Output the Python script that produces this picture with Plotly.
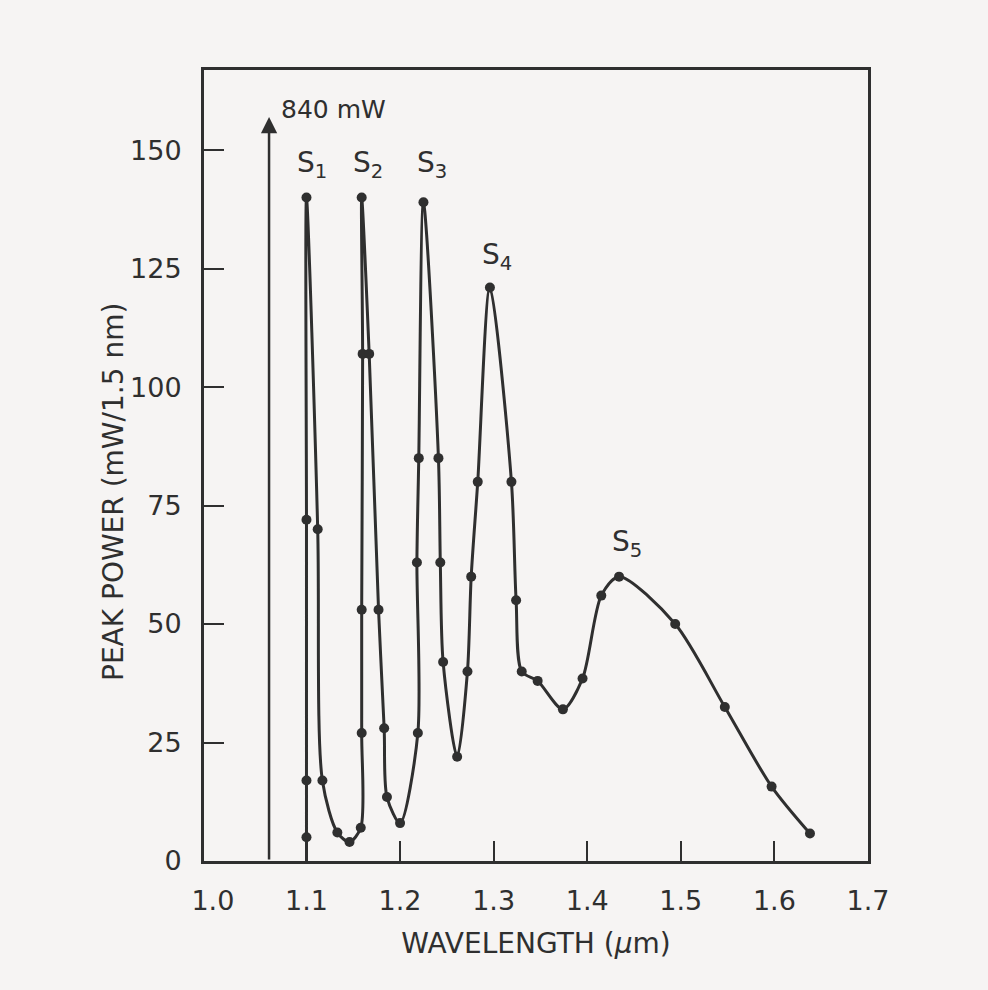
import plotly.graph_objects as go

# Stimulated Raman Stokes lines (S1..S5) generated by a 1.06 um pump
wavelength_um = [1.100, 1.100, 1.100, 1.100, 1.112, 1.117, 1.133, 1.146,
                 1.158, 1.159, 1.159, 1.160, 1.159, 1.167, 1.177, 1.183,
                 1.186, 1.200, 1.219, 1.218, 1.220, 1.225, 1.241, 1.243,
                 1.246, 1.261, 1.272, 1.276, 1.283, 1.296, 1.319, 1.324,
                 1.330, 1.347, 1.374, 1.395, 1.415, 1.434, 1.494, 1.547,
                 1.597, 1.638]
peak_power = [5, 17, 72, 140, 70, 17, 6, 4,
              7, 27, 53, 107, 140, 107, 53, 28,
              13.5, 8, 27, 63, 85, 139, 85, 63,
              42, 22, 40, 60, 80, 121, 80, 55,
              40, 38, 32, 38.5, 56, 60, 50, 32.5,
              15.7, 5.8]

pump_wavelength = 1.06
pump_label = "840 mW"

stokes_names = ["S<sub>1</sub>", "S<sub>2</sub>", "S<sub>3</sub>", "S<sub>4</sub>", "S<sub>5</sub>"]
stokes_x = [1.106, 1.166, 1.234, 1.304, 1.443]
stokes_y = [147, 147, 147, 127.5, 67]

x_ticks = [1.0, 1.1, 1.2, 1.3, 1.4, 1.5, 1.6, 1.7]
x_ticktext = ["1.0", "1.1", "1.2", "1.3", "1.4", "1.5", "1.6", "1.7"]
x_tickmarks = x_ticks[1:]          # 1.0 sits on the frame, no mark drawn
y_ticks = [0, 25, 50, 75, 100, 125, 150]

X_RANGE = [0.9905, 1.7]
Y_RANGE = [0, 166.9]

INK = "#2f2f2f"
PAPER = "#f6f4f3"
FONT = "DejaVu Sans"

fig = go.Figure()

# left edge of the S1 line running down to the baseline
fig.add_trace(go.Scatter(
    x=[wavelength_um[0], wavelength_um[0]], y=[0, peak_power[0]],
    mode="lines", line=dict(color=INK, width=3), hoverinfo="skip",
    showlegend=False,
))

fig.add_trace(go.Scatter(
    x=wavelength_um, y=peak_power,
    mode="lines+markers",
    line=dict(color=INK, width=3, shape="spline", smoothing=0.8),
    marker=dict(color=INK, size=10),
    showlegend=False,
))

# helper trace that carries the tick-mark-only overlay axis
fig.add_trace(go.Scatter(
    x=[x_tickmarks[0]], y=[0], xaxis="x2", mode="markers",
    marker=dict(opacity=0), hoverinfo="skip", showlegend=False,
))

annotations = []

# pump line drawn as an upward arrow (off scale)
annotations.append(dict(
    x=pump_wavelength, y=157, xref="x", yref="y",
    ax=pump_wavelength, ay=0, axref="x", ayref="y",
    text="", showarrow=True, arrowhead=2, arrowsize=1.3,
    arrowwidth=2.5, arrowcolor=INK, standoff=0, startstandoff=0,
))
annotations.append(dict(
    x=1.071, y=158.5, xref="x", yref="y", text=pump_label,
    showarrow=False, xanchor="left", yanchor="middle",
    font=dict(family=FONT, size=25, color=INK),
))

for name, sx, sy in zip(stokes_names, stokes_x, stokes_y):
    annotations.append(dict(
        x=sx, y=sy, xref="x", yref="y", text=name, showarrow=False,
        xanchor="center", yanchor="middle",
        font=dict(family=FONT, size=28, color=INK),
    ))

plot_l, plot_r, plot_t, plot_b = 204, 868, 70, 861

# vertical axis title, placed by pixel position
title_px, title_py = 113, 492
annotations.append(dict(
    x=(title_px - plot_l) / (plot_r - plot_l),
    y=(plot_b - title_py) / (plot_b - plot_t),
    xref="paper", yref="paper", text="PEAK POWER (mW/1.5 nm)",
    showarrow=False, textangle=-90, xanchor="center", yanchor="middle",
    font=dict(family=FONT, size=28, color=INK),
))

fig.update_layout(
    width=988, height=990,
    margin=dict(l=plot_l, r=988 - plot_r, t=plot_t, b=990 - plot_b),
    paper_bgcolor=PAPER, plot_bgcolor=PAPER,
    font=dict(family=FONT, color=INK),
    annotations=annotations,
    showlegend=False,
    xaxis=dict(
        range=X_RANGE, tickvals=x_ticks, ticktext=x_ticktext,
        ticks="", showline=True, linewidth=3, linecolor=INK, mirror=True,
        showgrid=False, zeroline=False,
        tickfont=dict(family=FONT, size=27, color=INK),
        ticklabelstandoff=14,
        title=dict(text="WAVELENGTH (<i>\u03bc</i>m)", standoff=18,
                   font=dict(family=FONT, size=28, color=INK)),
    ),
    xaxis2=dict(
        range=X_RANGE, overlaying="x", side="bottom", anchor="y",
        tickvals=x_tickmarks, showticklabels=False,
        ticks="inside", ticklen=20, tickwidth=2, tickcolor=INK,
        showline=False, showgrid=False, zeroline=False,
    ),
    yaxis=dict(
        range=Y_RANGE, tickvals=y_ticks,
        ticks="inside", ticklen=20, tickwidth=2, tickcolor=INK,
        showline=True, linewidth=3, linecolor=INK, mirror=True,
        showgrid=False, zeroline=False,
        tickfont=dict(family=FONT, size=27, color=INK),
        ticklabelstandoff=14,
    ),
)

fig.write_html("out.html")
